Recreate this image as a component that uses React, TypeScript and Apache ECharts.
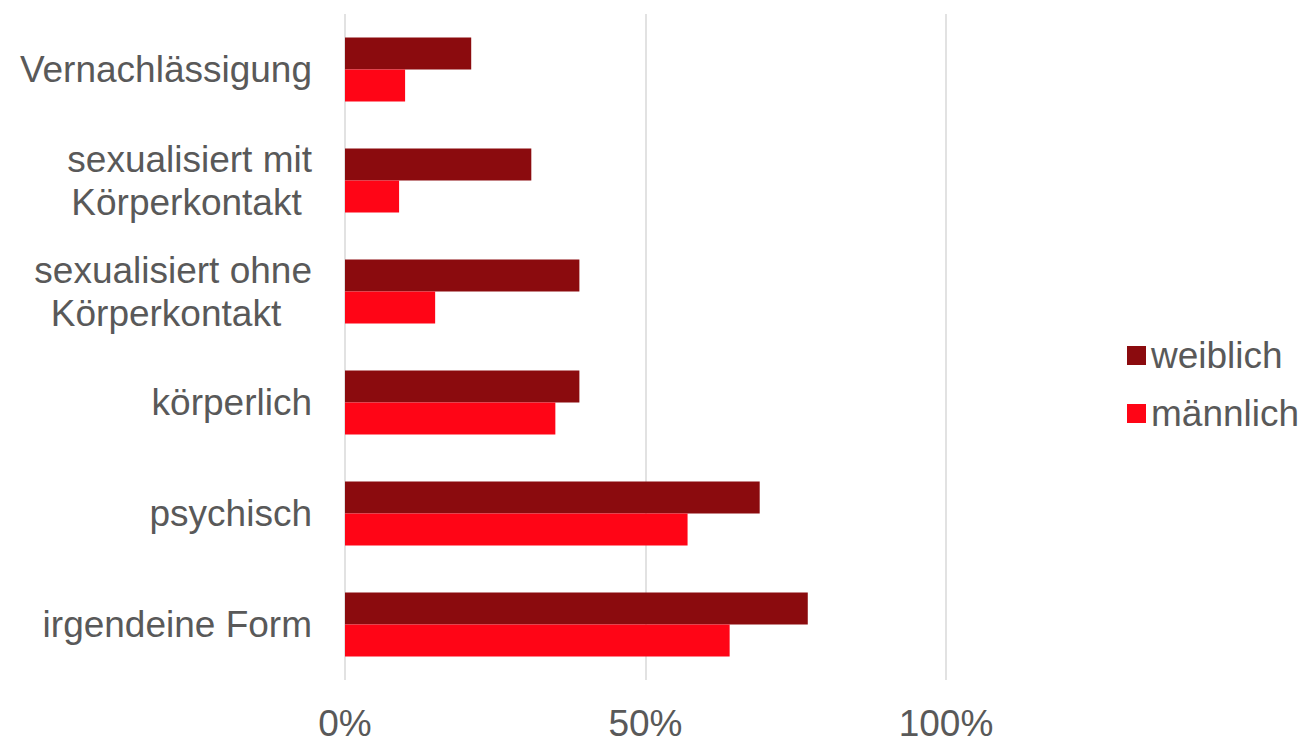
import React, { useEffect, useRef } from "react";
import * as echarts from "echarts";

const categories = [
  "Vernachlässigung",
  "sexualisiert mit\nKörperkontakt",
  "sexualisiert ohne\nKörperkontakt",
  "körperlich",
  "psychisch",
  "irgendeine Form",
];
const seriesNames = ["weiblich", "männlich"];
const weiblich = [21, 31, 39, 39, 69, 77];
const maennlich = [10, 9, 15, 35, 57, 64];
const xTicks = [0, 50, 100];

const FONT = "'Liberation Sans', Arial, sans-serif";
const TEXT = "#595959";
const FS = 37;

export default function App() {
  const ref = useRef<HTMLDivElement>(null);
  useEffect(() => {
    if (!ref.current) return;
    const chart = echarts.init(ref.current, undefined, { renderer: "svg" });
    chart.setOption({
      animation: false,
      backgroundColor: "#ffffff",
      textStyle: { fontFamily: FONT },
      grid: { left: 345, right: 357, top: 14, bottom: 58, containLabel: false },
      legend: {
        orient: "vertical",
        left: 1122,
        top: 332,
        itemWidth: 19,
        itemHeight: 19,
        itemGap: 21,
        icon: "rect",
        textStyle: { fontSize: FS, color: TEXT, fontFamily: FONT },
        data: seriesNames,
      },
      xAxis: {
        type: "value",
        min: xTicks[0],
        max: xTicks[xTicks.length - 1],
        interval: 50,
        axisLine: { show: false },
        axisTick: { show: false },
        splitLine: { show: true, lineStyle: { color: "#d9d9d9", width: 1.5 } },
        axisLabel: {
          formatter: "{value}%",
          fontSize: FS,
          color: TEXT,
          fontFamily: FONT,
          margin: 25,
        },
      },
      yAxis: {
        type: "category",
        inverse: true,
        data: categories,
        axisLine: { show: false },
        axisTick: { show: false },
        splitLine: { show: false },
        axisLabel: {
          fontSize: FS,
          color: TEXT,
          fontFamily: FONT,
          margin: 33,
          lineHeight: 43,
          formatter: (v: string) => {
            const lines = v.split("\n");
            if (lines.length < 2) return v;
            const pad = lines[0].includes("ohne") ? "\u00A0\u00A0\u00A0" : "\u00A0";
            return lines[0] + "\n" + lines[1] + pad;
          },
        },
      },
      series: [
        {
          name: seriesNames[0],
          type: "bar",
          data: weiblich,
          barWidth: 32,
          barGap: "0%",
          itemStyle: { color: "#8B0B0E" },
        },
        {
          name: seriesNames[1],
          type: "bar",
          data: maennlich,
          barWidth: 32,
          barGap: "0%",
          itemStyle: { color: "#FF0516" },
        },
      ],
    });
    return () => chart.dispose();
  }, []);
  return (
    <div
      ref={ref}
      style={{ position: "absolute", left: 0, top: 0, width: 1303, height: 742 }}
    />
  );
}
